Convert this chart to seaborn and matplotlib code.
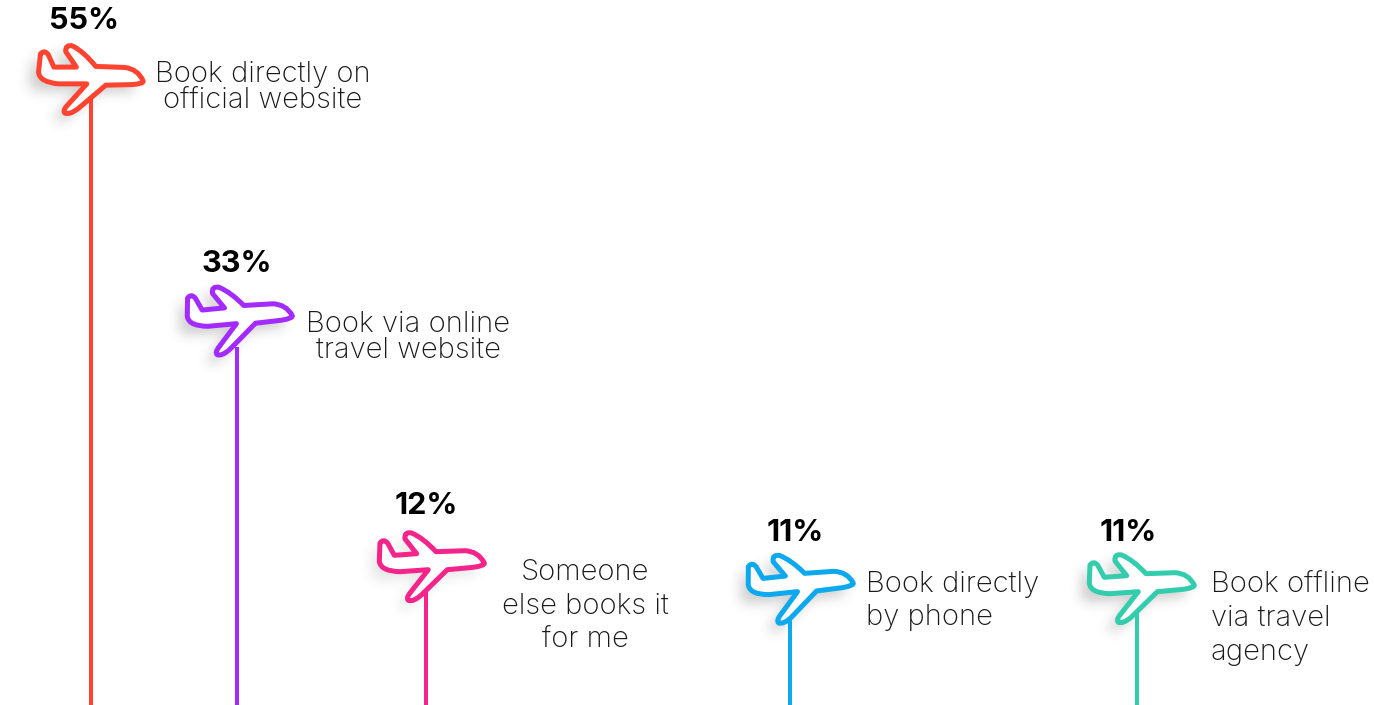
import numpy as np
import pandas as pd
import matplotlib
matplotlib.use("Agg")
import matplotlib.pyplot as plt
from matplotlib.path import Path
from matplotlib.patches import PathPatch
from matplotlib.transforms import Affine2D
import seaborn as sns

channels = ["Book directly on\nofficial website", "Book via online\ntravel website",
            "Someone\nelse books it\nfor me", "Book directly\nby phone",
            "Book offline\nvia travel\nagency"]
shares = [55, 33, 12, 11, 11]
share_labels = ["55%", "33%", "12%", "11%", "11%"]
colors = ["#FF4331", "#A32BFF", "#F5248A", "#0DA9EE", "#33CDAE"]

W, H = 1374, 705
stem_x = [91, 237, 426, 790, 1137]
value_xy = [(84, 21), (237, 264), (426, 506), (795, 533), (1128, 533)]
label_xy = [(263, 108), (408, 358), (585, 647), (866, 625), (1211, 660)]
label_ha = ["center", "center", "center", "left", "left"]
line_gap = [0.96, 0.96, 1.31, 1.29, 1.33]
plane_xy = [(85, 77), (234, 317), (426, 563), (795, 585), (1136, 585)]
plane_rot = [4, -1.3, 0, -2, 0]
shadow_strength = [0.26, 0.26, 0.13, 0.26, 0.26]

# Airliner outline, pixel units around the middle of the fuselage, y pointing down
C, L = Path.CURVE3, Path.LINETO
outline = [
    (Path.MOVETO, (-46, -20)),
    (C, (-42, -25)), (C, (-38, -19.3)),
    (L, (-31.7, -7.7)), (L, (-9.3, -9.3)), (L, (-21, -24)),
    (C, (-22, -31.7)), (C, (-14.3, -30)),
    (C, (-2.7, -25)), (C, (10, -11.3)),
    (L, (39, -12.3)),
    (C, (52.3, -11.7)), (C, (58.3, 0)),
    (C, (59, 2.7)), (C, (47.3, 4.3)),
    (L, (21.3, 6.7)), (L, (-4.3, 31.7)),
    (C, (-12.7, 39.3)), (C, (-17.7, 37.3)),
    (C, (-20, 35)), (C, (-16, 30)),
    (L, (2.3, 6.7)), (L, (-26, 8.7)),
    (C, (-45.3, 8.3)), (C, (-46.7, -1.7)),
    (Path.CLOSEPOLY, (-46, -20)),
]
codes, verts = zip(*outline)
plane = Path(verts, codes)


def blurred_shadow(path, sigma=6.0, pad=26):
    """Gaussian-softened silhouette of a path, returned with its lower-left pixel."""
    box = path.get_extents()
    x0, y0 = int(box.x0) - pad, int(box.y0) - pad
    x1, y1 = int(box.x1) + pad, int(box.y1) + pad
    gx, gy = np.meshgrid(np.arange(x0, x1) + 0.5, np.arange(y0, y1) + 0.5)
    mask = path.contains_points(np.c_[gx.ravel(), gy.ravel()]).reshape(gx.shape).astype(float)
    k = np.exp(-0.5 * (np.arange(-18, 19) / sigma) ** 2)
    k /= k.sum()
    mask = np.apply_along_axis(np.convolve, 0, mask, k, mode="same")
    mask = np.apply_along_axis(np.convolve, 1, mask, k, mode="same")
    return mask, x0, y0


sns.set_theme(style="white", rc={"figure.facecolor": "white", "axes.facecolor": "white"})
plt.rcParams["font.family"] = ["Inter", "DejaVu Sans"]

fig = plt.figure(figsize=(W / 100, H / 100), dpi=100)
ax = fig.add_axes([0, 0, 1, 1])

# Stems: thin bars on a pixel-wide x axis; the value axis starts just above zero
frame = pd.DataFrame({"x": stem_x, "share": shares, "channel": channels})
sns.barplot(data=frame, x="x", y="share", hue="channel", palette=colors, legend=False,
            native_scale=True, width=3.4 / 146, ax=ax, linewidth=0, saturation=1,
            dodge=False, zorder=2)
ax.set_xlim(0, W)
ax.set_ylim(2.1, 62.88)
ax.axis("off")

for (px, py), rot, col, strength in zip(plane_xy, plane_rot, colors, shadow_strength):
    base = Affine2D().rotate_deg(rot).scale(1, -1).translate(px, H - py)
    # blurred drop shadow, laid under the axes as a figure image
    moved = plane.transformed(Affine2D().translate(-8, 8) + base).interpolated(8)
    soft, xo, yo = blurred_shadow(moved)
    rgba = np.zeros(soft.shape + (4,))
    rgba[..., :3] = 0.25
    rgba[..., 3] = soft * strength
    fig.figimage(rgba, xo=xo, yo=yo, origin="lower", zorder=-1)
    ax.add_patch(PathPatch(plane, transform=base, fc="white", ec=col, lw=3.6,
                           zorder=4, joinstyle="round"))

to_axes = lambda x, y: (x / W, 1 - y / H)
for (vx, vy), text in zip(value_xy, share_labels):
    ax.text(*to_axes(vx, vy), text, transform=ax.transAxes, ha="center", va="center",
            fontsize=22, fontweight="bold", color="black", zorder=5)
for (lx, ly), text, ha, gap in zip(label_xy, channels, label_ha, line_gap):
    ax.text(*to_axes(lx, ly), text, transform=ax.transAxes, ha=ha, va="baseline",
            multialignment=ha, fontsize=21, fontweight="light", linespacing=gap,
            color="#1a1a1a", zorder=5)

fig.savefig("out.png", dpi=100)
